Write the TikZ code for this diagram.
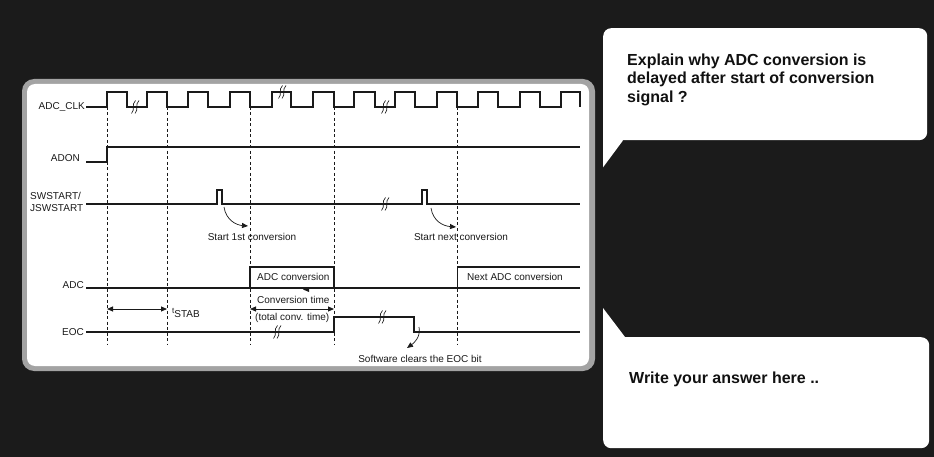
\documentclass[tikz,border=0pt]{standalone}
\usepackage{fontspec}
\setmainfont{Liberation Sans}
\usetikzlibrary{arrows.meta}
\definecolor{bg}{HTML}{1B1B1B}
\definecolor{panelgray}{HTML}{A3A3A3}
\definecolor{ink}{HTML}{1A1A1A}
\definecolor{qink}{HTML}{111111}
\begin{document}
\begin{tikzpicture}[x=1pt,y=-1pt,
  wave/.style={draw=ink,line width=1.1pt},
  guide/.style={draw=ink,line width=0.75pt,dash pattern=on 3pt off 2.5pt},
  lbl/.style={font=\fontsize{10}{12}\selectfont,text=ink,inner sep=0pt},
  qtext/.style={font=\fontsize{16}{18.4}\selectfont\bfseries,text=qink,inner sep=0pt},
  bubble/.style={fill=white,rounded corners=8pt,inner sep=0pt,anchor=north west},
  tipone/.style={draw=ink,line width=0.7pt,-{Triangle[length=6pt,width=5pt]}},
  tiptwo/.style={draw=ink,line width=0.8pt,{Triangle[length=6pt,width=5pt]}-{Triangle[length=6pt,width=5pt]}},
  brk/.pic={\draw[ink,line width=0.65pt] (-3.5,6.5) .. controls (0.5,2) and (-4,-2) .. (0.5,-6.5);
            \draw[ink,line width=0.65pt] (0,6.5) .. controls (4,2) and (-0.5,-2) .. (4,-6.5);}]
\fill[bg] (0,0) rectangle (934,457);
\useasboundingbox (0,0) rectangle (934,457);
% panel
\fill[panelgray,rounded corners=12pt] (22,79) rectangle (595,371);
\fill[white,rounded corners=8pt] (27,84) rectangle (589,366);
% guides
\foreach \x/\n in {107/g1,167/g2,250/g3,334/g4,457/g5}{
  \coordinate (\n t) at (\x,107); \coordinate (\n b) at (\x,345);
  \draw[guide] (\n t) -- (\n b);}
% labels
\node[lbl,anchor=east] (lclk) at (85,107) {ADC\_CLK};
\node[lbl,anchor=east] (ladon) at (80,158) {ADON};
\node[lbl,anchor=west,align=left] (lsw) at (30,202) {SWSTART/\\JSWSTART};
\node[lbl,anchor=east] (ladc) at (84,285) {ADC};
\node[lbl,anchor=east] (leoc) at (84,332) {EOC};
% clock
\draw[wave] (86,107) \foreach \r/\f in {107/127,147/167,188/208,230/250,272/291,313/334,354/375,395/415,437/457,478/498,520/540,561/580}{ -- (\r,107) -- (\r,92) -- (\f,92) -- (\f,107)};
\pic at (135,107) {brk};
\pic at (282,92) {brk};
\pic at (385,107) {brk};
% ADON
\draw[wave] (86,162) -- (107,162) -- (107,147) -- (580,147);
% SWSTART
\draw[wave] (86,204) -- (217,204) -- (217,190) -- (222,190) -- (222,204) -- (422,204) -- (422,190) -- (427,190) -- (427,204) -- (580,204);
\pic at (385,204) {brk};
\coordinate (s1) at (224,207); \coordinate (e1) at (248,226);
\coordinate (s2) at (431,208); \coordinate (e2) at (456,227);
\draw[tipone] (s1) .. controls (226,220) and (236,225) .. (e1);
\draw[tipone] (s2) .. controls (433,221) and (443,226) .. (e2);
\node[lbl] (st1) at (252,237) {Start 1st conversion};
\node[lbl] (st2) at (461,237) {Start next conversion};
% ADC
\draw[wave] (86,288) -- (580,288);
\draw[wave] (250,288) -- (250,267) -- (334,267) -- (334,288);
\draw[wave] (457.5,288) -- (457.5,267) -- (580,267);
\node[lbl,anchor=west] (adcc) at (257,277) {ADC conversion};
\node[lbl,anchor=west] (nadc) at (467,277) {Next ADC conversion};
\fill[ink] (303,289.5) -- (309,287) -- (309,292) -- cycle;
\node[lbl,anchor=west] (ctime) at (257,300) {Conversion time};
\node[lbl,anchor=west] (tconv) at (255,318) {(total conv. time)};
\coordinate (c1) at (250,309); \coordinate (c2) at (334,309);
\draw[tiptwo] (c1) -- (c2);
\coordinate (t1) at (107,309); \coordinate (t2) at (167,309);
\draw[tiptwo] (t1) -- (t2);
\node[lbl,anchor=base west] (tstab) at (172,317) {\raisebox{3.5pt}{\fontsize{8}{9}\selectfont t}STAB};
% EOC
\draw[wave] (86,332) -- (334,332) -- (334,317) -- (414,317) -- (414,332) -- (580,332);
\pic at (277,332) {brk};
\pic at (382,317) {brk};
\coordinate (s3) at (419,327); \coordinate (e3) at (407,348);
\draw[tipone] (s3) .. controls (421,337) and (414,343) .. (e3);
\node[lbl] (sw) at (420,359) {Software clears the EOC bit};
% question bubble
\node[bubble,minimum width=324pt,minimum height=112pt] (qbox) at (603,28) {};
\fill[white] ([yshift=10pt]qbox.south west) -- ([yshift=-27pt]qbox.south west) -- ([xshift=20pt]qbox.south west) -- cycle;
\node[qtext,anchor=north west,align=left] (qt) at (627,53.5) {Explain why ADC conversion is\\delayed after start of conversion\\signal ?};
% answer bubble
\node[bubble,minimum width=326pt,minimum height=111pt] (abox) at (603,337) {};
\fill[white] ([yshift=29pt]abox.north west) -- ([yshift=-10pt]abox.north west) -- ([xshift=22pt]abox.north west) -- cycle;
\node[qtext,anchor=base west] (ans) at (629,383) {Write your answer here ..};
\end{tikzpicture}
\end{document}
